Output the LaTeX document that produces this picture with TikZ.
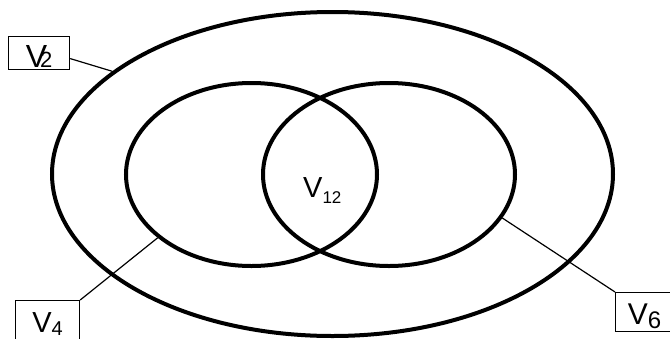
\documentclass[tikz,border=0pt]{standalone}
\usepackage{fontspec}
\setmainfont{Liberation Sans}
\usetikzlibrary{shapes.geometric}

% V with a lowered index: #1 index, #2 its size, #3 how far down
\newcommand{\vtag}[3]{V\raisebox{-#3pt}{\fontsize{#2}{#2}\selectfont #1}}

\begin{document}
\begin{tikzpicture}[
    x=1pt, y=-1pt,
    setring/.style={ellipse, draw, line width=4pt, inner sep=0pt},
    tagbox/.style={rectangle, draw, line width=1.2pt, inner sep=0pt, anchor=north west,
        text height=24pt, text depth=0pt, font=\fontsize{29}{30}\selectfont},
    tagline/.style={line width=1.2pt}
]
\useasboundingbox (0,0) rectangle (670,338);

\node[setring, minimum width=561pt, minimum height=324pt] (outer) at (332.5,174) {};
\node[setring, minimum width=251pt, minimum height=183pt] (leftset) at (251.5,174.5) {};
\node[setring, minimum width=252pt, minimum height=183pt] (rightset) at (389,174.5) {};
\node[anchor=base west, inner sep=0pt, font=\fontsize{29}{30}\selectfont] (mid) at (303,197) {\vtag{12}{17}{6}};

\node[tagbox, minimum width=61pt, minimum height=33pt, text height=28pt, font=\fontsize{32}{33}\selectfont] (v2box) at (8,36) {V\kern-7pt{\fontsize{22}{22}\selectfont 2}};
\node[tagbox, minimum width=64pt, minimum height=40pt, text height=23pt] (v4box) at (15,300) {\vtag{4}{20}{3.5}};
\node[tagbox, minimum width=58pt, minimum height=39pt, font=\fontsize{30}{31}\selectfont] (v6box) at (615,292) {\vtag{6}{24}{4}};

\draw[tagline] (v2box.-10) -- (outer.155);
\draw[tagline] (v4box.north east) -- (leftset.214);
\draw[tagline] (v6box.north west) -- (rightset.-21);
\end{tikzpicture}
\end{document}
